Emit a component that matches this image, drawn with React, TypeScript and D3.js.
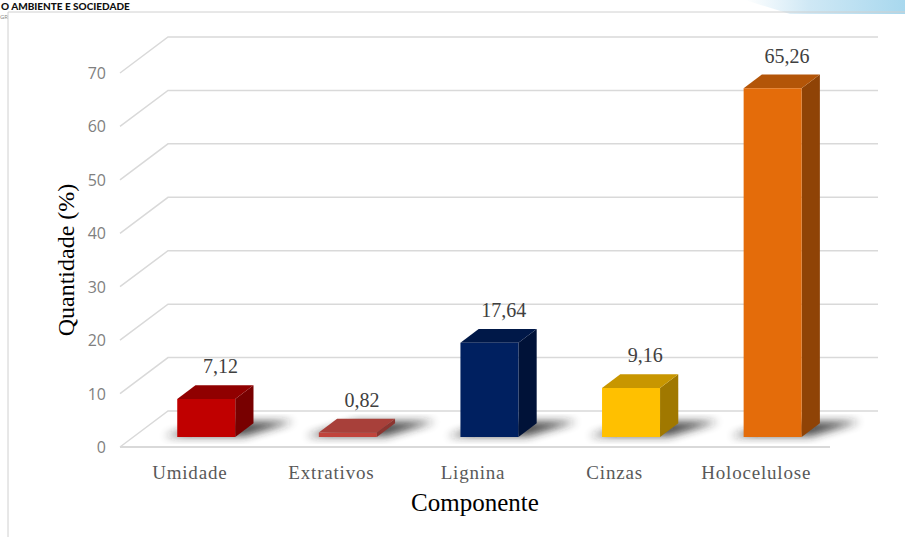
import React from "react";
import * as d3 from "d3";

const categories = ["Umidade", "Extrativos", "Lignina", "Cinzas", "Holocelulose"];
const values = [7.12, 0.82, 17.64, 9.16, 65.26];
const valueLabels = ["7,12", "0,82", "17,64", "9,16", "65,26"];
const yTicks = [0, 10, 20, 30, 40, 50, 60, 70];
const frontColors = ["#c00000", "#c0443c", "#002060", "#ffc000", "#e46c0a"];
const topColors = ["#900000", "#a8403a", "#001848", "#c89600", "#b35508"];
const sideColors = ["#780000", "#8c3530", "#001238", "#a07800", "#8f4306"];

const W = 905;
const H = 537;
const DX = 48;
const DY = -36;
const D0 = 0.28;
const D1 = 0.66;
const BAR_W = 58;

export default function App() {
  const y = d3.scaleLinear().domain([0, 70]).range([447, 73]);
  const x = d3.scaleBand<string>().domain(categories).range([122, 830]);
  const proj = (px: number, py: number, d: number): [number, number] => [px + d * DX, py + d * DY];
  const pts = (arr: [number, number][]) => arr.map((p) => p.join(",")).join(" ");
  const serif = "'Liberation Serif', 'Times New Roman', serif";

  return (
    <svg width={W} height={H} style={{ position: "absolute", left: 0, top: 0, background: "#fff" }}>
      <defs>
        <filter id="blur" x="-50%" y="-50%" width="200%" height="200%">
          <feGaussianBlur stdDeviation="4" />
        </filter>
        <linearGradient id="blueGrad" x1="0" x2="1" y1="0" y2="0">
          <stop offset="0" stopColor="#ffffff" />
          <stop offset="0.4" stopColor="#cfe8f5" />
          <stop offset="1" stopColor="#a8d8ee" />
        </linearGradient>
      </defs>

      {/* page decorations */}
      <path d="M745,0 L905,0 L905,14 L790,14 Z" fill="url(#blueGrad)" />
      <text x={1} y={10} fontFamily="Lato, 'Open Sans', sans-serif" fontWeight={900} fontSize={10} fill="#111">
        O AMBIENTE E SOCIEDADE
      </text>
      <text x={0} y={19} fontFamily="'Open Sans', sans-serif" fontSize={6} fill="#888">GR</text>
      <line x1={8} y1={12} x2={905} y2={12} stroke="#d0d0d0" strokeWidth={1} />
      <line x1={8} y1={12} x2={8} y2={537} stroke="#d0d0d0" strokeWidth={1} />

      {/* gridlines */}
      {yTicks.map((t) => {
        const [bx, by] = proj(120, y(t), 1);
        return (
          <g key={t}>
            <polyline
              points={pts([[120, y(t)], [bx, by], [878, by]])}
              fill="none"
              stroke="#d9d9d9"
              strokeWidth={1.5}
            />
            <text
              x={106}
              y={y(t) + 6}
              textAnchor="end"
              fontFamily="'Open Sans', 'Liberation Sans', sans-serif"
              fontSize={16}
              fill="#7f7f7f"
            >
              {t}
            </text>
          </g>
        );
      })}
      {/* floor front edge */}
      <line x1={120} y1={y(0)} x2={830} y2={y(0)} stroke="#d9d9d9" strokeWidth={2} />

      {/* shadows */}
      {categories.map((c) => {
        const cx = (x(c) as number) + x.bandwidth() / 2;
        const l = cx - BAR_W / 2 - 14;
        const r = cx + BAR_W / 2 + 8;
        const fy = y(0);
        return (
          <polygon
            key={"s" + c}
            points={pts([proj(l, fy, D0 + 0.02), proj(r, fy, D0 + 0.02), proj(r + 30, fy, D1 + 0.05), proj(l + 30, fy, D1 + 0.05)])}
            fill="#222"
            opacity={0.8}
            filter="url(#blur)"
          />
        );
      })}

      {/* bars */}
      {categories.map((c, i) => {
        const cx = (x(c) as number) + x.bandwidth() / 2;
        const l = cx - BAR_W / 2;
        const r = cx + BAR_W / 2;
        const y0 = y(0);
        const y1 = y(values[i]);
        const fbl = proj(l, y0, D0);
        const fbr = proj(r, y0, D0);
        const ftl = proj(l, y1, D0);
        const ftr = proj(r, y1, D0);
        const btl = proj(l, y1, D1);
        const btr = proj(r, y1, D1);
        const bbr = proj(r, y0, D1);
        const mid = proj(cx, y1, D1);
        return (
          <g key={c}>
            <polygon points={pts([fbr, ftr, btr, bbr])} fill={sideColors[i]} />
            <polygon points={pts([ftl, ftr, btr, btl])} fill={topColors[i]} />
            <polygon points={pts([fbl, fbr, ftr, ftl])} fill={frontColors[i]} />
            <text
              x={mid[0] - 4}
              y={mid[1] - 12}
              textAnchor="middle"
              fontFamily={serif}
              fontSize={20}
              fill="#404040"
            >
              {valueLabels[i]}
            </text>
          </g>
        );
      })}

      {/* category labels */}
      {categories.map((c) => (
        <text
          key={"l" + c}
          x={(x(c) as number) + x.bandwidth() / 2 - 3}
          y={479}
          textAnchor="middle"
          fontFamily={serif}
          fontSize={19}
          letterSpacing={0.8}
          fill="#595959"
        >
          {c}
        </text>
      ))}

      {/* axis titles */}
      <text x={475} y={511} textAnchor="middle" fontFamily={serif} fontSize={25} fill="#000">
        Componente
      </text>
      <text
        transform="translate(74,260) rotate(-90)"
        textAnchor="middle"
        fontFamily={serif}
        fontSize={24}
        fill="#000"
      >
        Quantidade (%)
      </text>
    </svg>
  );
}
